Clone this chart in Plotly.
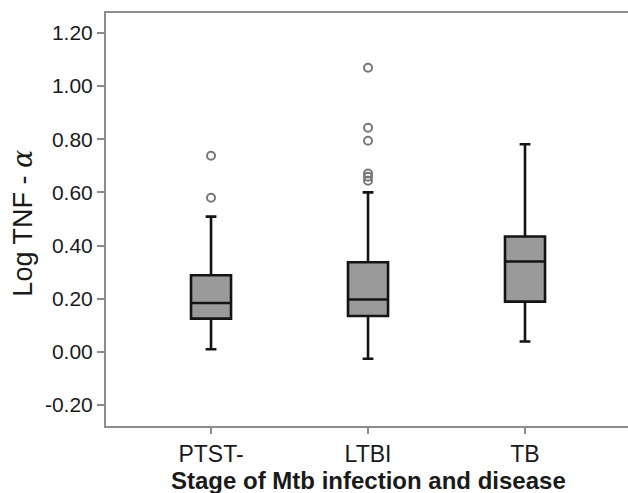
import plotly.graph_objects as go

categories = ["PTST-", "LTBI", "TB"]
q1_vals = [0.125, 0.135, 0.189]
median_vals = [0.184, 0.197, 0.340]
q3_vals = [0.288, 0.337, 0.434]
lower_whisker = [0.010, -0.026, 0.039]
upper_whisker = [0.509, 0.600, 0.781]

outlier_groups = ["PTST-", "PTST-", "LTBI", "LTBI", "LTBI", "LTBI", "LTBI", "LTBI"]
outlier_values = [0.738, 0.580, 1.069, 0.843, 0.794, 0.671, 0.659, 0.644]

y_ticks = [-0.20, 0.00, 0.20, 0.40, 0.60, 0.80, 1.00, 1.20]
y_ticktext = [f"{v:.2f}" for v in y_ticks]

x_title = "Stage of Mtb infection and disease"
y_title = "Log TNF - <span style='font-family:DejaVu Serif'><i>α</i></span>"

fig = go.Figure()
fig.add_trace(go.Box(
    x=categories,
    q1=q1_vals, median=median_vals, q3=q3_vals,
    lowerfence=lower_whisker, upperfence=upper_whisker,
    boxpoints=False,
    width=0.255,
    whiskerwidth=0.27,
    fillcolor="#9a9a9a",
    line=dict(color="#141414", width=2.6),
    showlegend=False,
    hoverinfo="skip",
))
fig.add_trace(go.Scatter(
    x=outlier_groups, y=outlier_values,
    mode="markers",
    marker=dict(symbol="circle-open", size=8, color="#777777", line=dict(width=2, color="#777777")),
    showlegend=False,
    hoverinfo="skip",
))

axis_color = "#8c8c8c"
fig.update_layout(
    width=628, height=493,
    margin=dict(l=106, r=0, t=13, b=67),
    paper_bgcolor="white", plot_bgcolor="white",
    font=dict(family="Liberation Sans, Arial, sans-serif", color="#1a1a1a"),
    xaxis=dict(
        type="category",
        categoryorder="array", categoryarray=categories,
        range=[-0.669, 2.656],
        automargin=False,
        showline=True, linecolor=axis_color, linewidth=2, mirror=True,
        ticks="outside", ticklen=6, tickwidth=2, tickcolor=axis_color,
        tickfont=dict(size=23),
        showgrid=False, zeroline=False,
    ),
    yaxis=dict(
        range=[-0.279, 1.275],
        tickvals=y_ticks,
        ticktext=y_ticktext,
        automargin=False,
        showline=True, linecolor=axis_color, linewidth=2,
        ticks="outside", ticklen=7, tickwidth=2, tickcolor=axis_color,
        tickfont=dict(size=21),
        showgrid=False, zeroline=False,
    ),
    annotations=[
        dict(text=f"<b>{x_title}</b>", xref="paper", yref="paper",
             x=0.502, y=-0.131, xanchor="center", yanchor="middle",
             showarrow=False, font=dict(size=24, color="#1a1a1a")),
        dict(text=y_title, xref="paper", yref="paper",
             x=-0.159, y=0.49, xanchor="center", yanchor="middle", textangle=-90,
             showarrow=False, font=dict(size=27, color="#1a1a1a")),
    ],
)

fig.write_html(
    "out.html",
    config={"displayModeBar": False},
    post_script="document.body.style.margin='0';document.body.style.overflow='hidden';",
)
